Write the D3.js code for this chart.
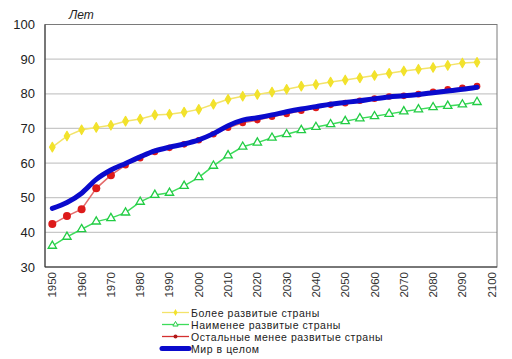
<!DOCTYPE html>
<html><head><meta charset="utf-8">
<script src="https://cdn.jsdelivr.net/npm/d3@7/dist/d3.min.js"></script>
<style>body{margin:0;background:#fff}svg{display:block;font-family:Arial,"Liberation Sans",sans-serif}</style>
</head><body><svg id="c" width="512" height="359"></svg>
<script>
const categories = d3.range(1950, 2101, 5);
const tickLabels = d3.range(1950, 2101, 10);
const yTicks = [30,40,50,60,70,80,90,100];
const seriesNames = ["Более развитые страны","Наименее развитые страны","Остальные менее развитые страны","Мир в целом"];
const moreDeveloped = [64.6,67.8,69.6,70.3,70.9,72.1,72.7,73.9,74.1,74.7,75.5,77.0,78.4,79.3,79.8,80.5,81.3,82.2,82.7,83.4,84.0,84.6,85.3,85.9,86.6,87.1,87.6,88.2,88.9,89.1];
const leastDeveloped = [36.1,38.7,40.9,43.1,44.1,45.7,48.8,50.8,51.4,53.4,55.9,59.2,62.2,64.7,65.9,67.3,68.3,69.5,70.4,71.2,72.1,72.9,73.5,74.2,74.9,75.5,76.1,76.5,76.9,77.6];
const otherLess = [42.4,44.7,46.7,52.7,56.5,59.4,61.4,63.2,64.4,65.4,66.6,68.3,70.2,71.6,72.4,73.4,74.2,75.1,75.9,76.8,77.3,78.0,78.6,79.2,79.4,79.9,80.6,81.3,81.7,82.2];
const world = [46.9,48.6,51.3,55.3,58.0,59.9,61.8,63.5,64.6,65.5,66.7,68.5,70.8,72.4,73.1,73.9,74.8,75.6,76.3,77.0,77.5,78.0,78.6,79.1,79.4,79.8,80.3,80.8,81.3,81.9];

const svg = d3.select("#c");
const L=45, R=497, T=24.5, B=267;
const x = d3.scaleBand().domain(categories).range([L, R+2]);
const xc = v => x(v) + x.bandwidth()/2;
const y = d3.scaleLinear().domain([30,100]).range([B, T]);

svg.append("g").selectAll("line").data(yTicks.filter(v=>v>30 && v<100)).join("line")
  .attr("x1",L).attr("x2",R).attr("y1",d=>y(d)).attr("y2",d=>y(d))
  .attr("stroke","#c8c8c8").attr("stroke-width",1.2);
svg.append("rect").attr("x",L).attr("y",T).attr("width",R-L).attr("height",B-T)
  .attr("fill","none").attr("stroke","#7a7a7a").attr("stroke-width",1);
svg.append("line").attr("x1",L).attr("x2",L).attr("y1",T).attr("y2",B).attr("stroke","#333");
svg.append("line").attr("x1",L).attr("x2",R).attr("y1",B).attr("y2",B).attr("stroke","#333");

svg.append("g").selectAll("text").data(yTicks).join("text")
  .attr("x",35).attr("y",d=>y(d)+4.5).attr("text-anchor","end")
  .attr("font-size",13).attr("fill","#222").text(d=>d);
svg.append("text").attr("x",69).attr("y",19).attr("font-size",12).attr("font-style","italic").attr("fill","#222").text("Лет");

svg.append("g").selectAll("text").data(tickLabels).join("text")
  .attr("transform",d=>`translate(${xc(d)+4},${272}) rotate(-90)`)
  .attr("text-anchor","end").attr("font-size",11.5).attr("fill","#333").text(d=>d);

const line = d3.line().x((d,i)=>xc(categories[i])).y(d=>y(d));

svg.append("path").datum(moreDeveloped).attr("d",line).attr("fill","none").attr("stroke","#f3e36a").attr("stroke-width",1.5);
svg.append("g").selectAll("path").data(moreDeveloped).join("path")
  .attr("d",d3.symbol(d3.symbolDiamond,26)()).attr("transform",(d,i)=>`translate(${xc(categories[i])},${y(d)})`)
  .attr("fill","#f2e22c").attr("stroke","#f2e22c").attr("stroke-width",1.2).attr("stroke-linejoin","round");
svg.append("path").datum(leastDeveloped).attr("d",line).attr("fill","none").attr("stroke","#3ddc5a").attr("stroke-width",1.5);
svg.append("g").selectAll("path").data(leastDeveloped).join("path")
  .attr("d",d3.symbol(d3.symbolTriangle,30)()).attr("transform",(d,i)=>`translate(${xc(categories[i])},${y(d)})`)
  .attr("fill","#fff").attr("stroke","#22cc44").attr("stroke-width",1.3);
svg.append("path").datum(otherLess).attr("d",line).attr("fill","none").attr("stroke","#e46a6a").attr("stroke-width",1.5);
svg.append("g").selectAll("circle").data(otherLess).join("circle")
  .attr("cx",(d,i)=>xc(categories[i])).attr("cy",d=>y(d)).attr("r",(d,i)=>i<5?4:3.3)
  .attr("fill","#dd1a1a");
svg.append("path").datum(world).attr("d",line.curve(d3.curveMonotoneX)).attr("fill","none").attr("stroke","#0a0acc").attr("stroke-width",5).attr("stroke-linejoin","round").attr("stroke-linecap","round");

const lg = svg.append("g");
const ly = [312.5,324.5,336.5,348.5];
const lc = ["#f3e36a","#3ddc5a","#d43030","#0a0acc"];
seriesNames.forEach((n,i)=>{
  lg.append("line").attr("x1",162).attr("x2",189).attr("y1",ly[i]).attr("y2",ly[i])
    .attr("stroke",lc[i]).attr("stroke-width",i===3?5:1.3).attr("stroke-linecap",i===3?"round":"butt");
  if(i===0) lg.append("path").attr("d",d3.symbol(d3.symbolDiamond,14)()).attr("transform",`translate(175.5,${ly[i]})`).attr("fill","#f2e22c");
  if(i===1) lg.append("path").attr("d",d3.symbol(d3.symbolTriangle,12)()).attr("transform",`translate(175.5,${ly[i]})`).attr("fill","#fff").attr("stroke","#22cc44");
  if(i===2) lg.append("circle").attr("cx",175.5).attr("cy",ly[i]).attr("r",2).attr("fill","#b01818");
  lg.append("text").attr("x",191).attr("y",ly[i]+4).attr("font-size",10.5).attr("letter-spacing",0.55).attr("fill","#222").text(n);
});
</script></body></html>
